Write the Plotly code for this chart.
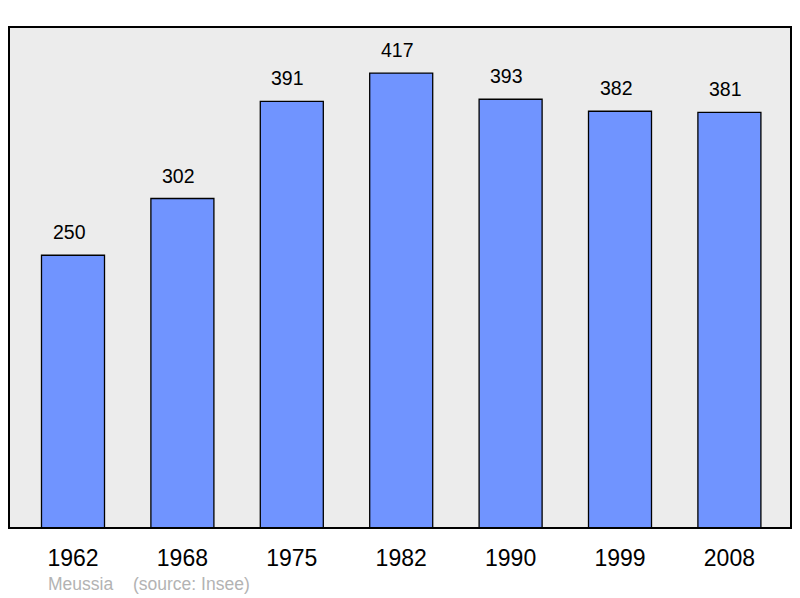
import plotly.graph_objects as go

# population data (Meussia, source Insee)
years = ["1962", "1968", "1975", "1982", "1990", "1999", "2008"]
population = [250, 302, 391, 417, 393, 382, 381]

x_pos = list(range(len(years)))

fig = go.Figure()
fig.add_trace(go.Bar(
    x=x_pos, y=population, width=0.576,
    marker=dict(color="#7094ff", line=dict(color="black", width=1.3)),
    hoverinfo="skip",
))

# value labels above bars (sit a touch left of centre in the original)
for xi, val in zip(x_pos, population):
    fig.add_annotation(x=xi, y=val, text=str(val), showarrow=False,
                       yanchor="bottom", yshift=10, xshift=-4,
                       font=dict(size=19.5, color="black", family="Liberation Sans, Arial"))

# page body has 8px margin, so the figure is a bit smaller and shifted
fig.update_layout(
    width=792, height=590,
    margin=dict(l=1, r=9, t=19, b=70),
    plot_bgcolor="#ececec", paper_bgcolor="white",
    showlegend=False,
    font=dict(family="Liberation Sans, Arial", color="black"),
)
fig.update_xaxes(range=[-0.585, 6.563], tickvals=x_pos, ticktext=years,
                 showgrid=False, zeroline=False, ticks="outside", ticklen=9,
                 tickcolor="rgba(0,0,0,0)", tickfont=dict(size=23))
fig.update_yaxes(range=[0, 459.2], showgrid=False, zeroline=False,
                 showticklabels=False)

# frame around plot area
fig.add_shape(type="rect", xref="paper", yref="paper", x0=0, y0=0, x1=1, y1=1,
              line=dict(color="black", width=2), layer="above")

# footer
fig.add_annotation(xref="paper", yref="paper", x=0.0475, y=-0.112, text="Meussia",
                   showarrow=False, xanchor="left", yanchor="middle",
                   font=dict(size=17.5, color="#b3b3b3"))
fig.add_annotation(xref="paper", yref="paper", x=0.1565, y=-0.112, text="(source: Insee)",
                   showarrow=False, xanchor="left", yanchor="middle",
                   font=dict(size=17.5, color="#b3b3b3"))

fig.write_html("out.html")
